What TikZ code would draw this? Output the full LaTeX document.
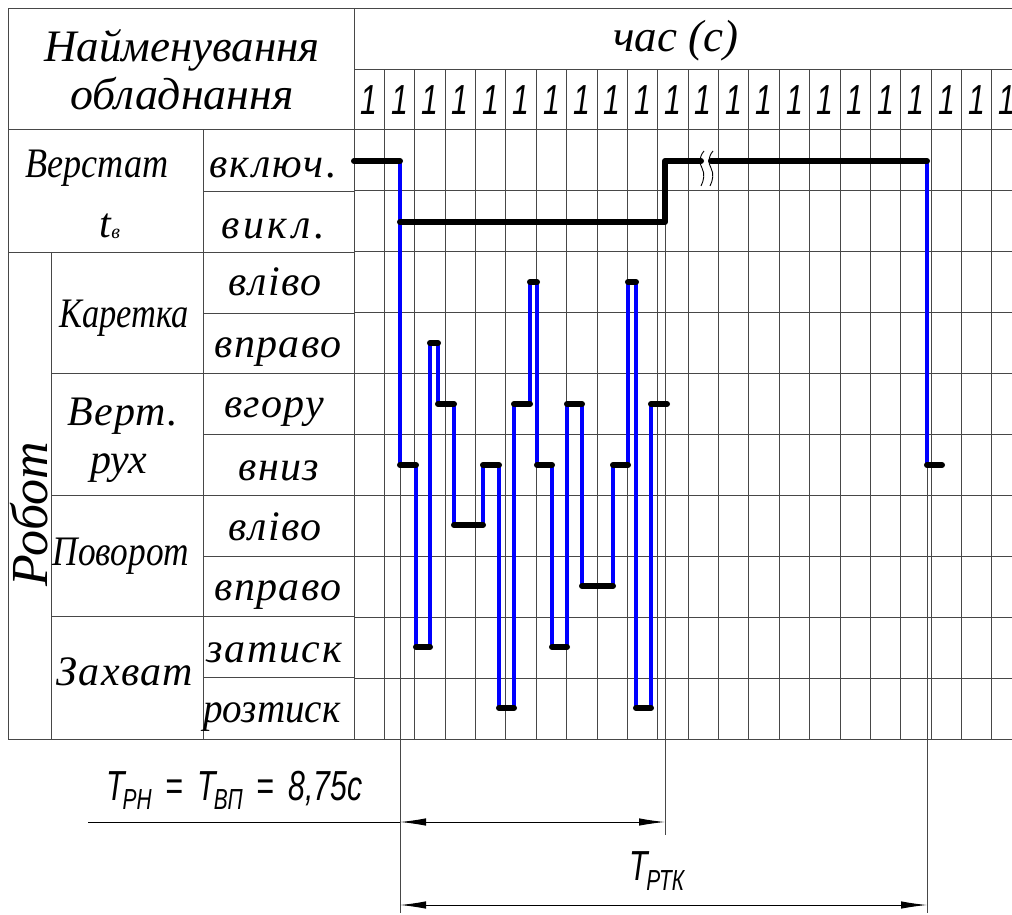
\documentclass[tikz,border=0pt]{standalone}
\usepackage{fontspec}
\setmainfont{Liberation Serif}
\newfontfamily\gost[FakeStretch=0.72]{Liberation Sans}
\usetikzlibrary{arrows.meta}
\begin{document}
\begin{tikzpicture}[x=1pt,y=-1pt,
  grid/.style={black!72,line width=1pt},
  sig/.style={black,line width=6pt,line cap=round},
  blu/.style={blue,line width=3.4pt},
  dim/.style={black,line width=1pt},
  lab/.style={inner sep=0pt,anchor=base,font=\itshape\fontsize{42}{42}\selectfont},
  sp/.style={font=\itshape\fontsize{42}{42}\selectfont\addfontfeatures{LetterSpace=#1}},
  hlab/.style={inner sep=0pt,anchor=base,font=\itshape\fontsize{45}{45}\selectfont},
  glab/.style={inner sep=0pt,anchor=base,font=\gost\itshape\fontsize{42}{42}\selectfont}]
\useasboundingbox (0,0) rectangle (1012,915);
\begin{scope}
\clip (0,0) rectangle (1012,915);
% ---- time grid
\foreach \k in {1,...,22} \draw[grid] ({354+30.38*\k},70) -- ({354+30.38*\k},739);
\foreach \i in {0,...,9} \draw[grid] (354,{130+60.9*\i}) -- (1012,{130+60.9*\i});
\draw[grid] (8,9) -- (1012,9);
\draw[grid] (354,70) -- (1012,70);
\draw[grid] (8,739) -- (1012,739);
% ---- left table
\draw[grid] (8,9) -- (8,739);
\draw[grid] (354,9) -- (354,739);
\draw[grid] (203,130) -- (203,739);
\draw[grid] (51,252) -- (51,739);
\draw[grid] (8,130) -- (354,130);
\draw[grid] (8,252) -- (354,252);
\draw[grid] (203,191) -- (354,191);
\draw[grid] (203,313) -- (354,313);
\draw[grid] (51,373) -- (354,373);
\draw[grid] (203,434) -- (354,434);
\draw[grid] (51,495) -- (354,495);
\draw[grid] (203,556) -- (354,556);
\draw[grid] (51,616) -- (354,616);
\draw[grid] (203,677) -- (354,677);
% ---- time labels (the last one is cut by the page edge, as in the original)
\node[glab] (c21) at ({354+30.38*21+15.19},115) {1};
\end{scope}
\foreach \k in {0,...,20} \node[glab] (c\k) at ({354+30.38*\k+15.19},115) {1};
% ---- texts
\node[hlab] (hdr1) at (182,62) {Найменування};
\node[hlab,xscale=1.02] (hdr2) at (182,110) {обладнання};
\node[hlab] (time) at (676,52) {час (с)};
\node[lab,xscale=0.86] (vst) at (97,177) {Верстат};
\node[lab] (tv) at (110,237) {t\raisebox{-1pt}{\fontsize{20}{20}\selectfont в}};
\node[lab,sp=5] (on) at (273,177) {включ.};
\node[lab,sp=9] (off) at (273,238) {викл.};
\node[lab,xscale=0.82] (kar) at (124,327) {Каретка};
\node[lab,sp=3.3] (vl1) at (275,295) {вліво};
\node[lab,sp=3.2] (vp1) at (278,357) {вправо};
\node[lab,sp=2.9] (vert) at (123,425) {Верт.};
\node[lab] (rukh) at (119,473) {рух};
\node[lab,sp=3.1] (up) at (274,417) {вгору};
\node[lab,sp=3.3] (down) at (279,480) {вниз};
\node[lab,xscale=0.84] (pov) at (121,565) {Поворот};
\node[lab,sp=3.3] (vl2) at (275,540) {вліво};
\node[lab,sp=3.2] (vp2) at (278,600) {вправо};
\node[lab,sp=3.2] (zakh) at (125,685) {Захват};
\node[lab,sp=4] (zat) at (274,662) {затиск};
\node[lab,xscale=0.93] (roz) at (272,722) {розтиск};
\node[inner sep=0pt,anchor=base,rotate=90,font=\itshape\fontsize{52}{52}\selectfont] (robot) at (47,514) {Робот};
% ---- extension lines
\coordinate (e1a) at (400,465); \coordinate (e1b) at (400,913);
\coordinate (e2a) at (665,222); \coordinate (e2b) at (665,835);
\coordinate (e3a) at (927,465); \coordinate (e3b) at (927,913);
\draw[grid] (e1a) -- (e1b);
\draw[grid] (e2a) -- (e2b);
\draw[grid] (e3a) -- (e3b);
% ---- machine signal
\draw[blu] (400,161) -- (400,465);
\draw[blu] (927,161) -- (927,465);
\draw[sig] (354,161) -- (400,161);
\draw[sig,line join=round] (400,222) -- (665,222) -- (665,161) -- (701,161);
\draw[sig] (711,161) -- (927,161);
\draw[sig] (927,465) -- (942,465);
\draw[black,line width=0.9pt] (704,151) .. controls (699,157) and (699,163) .. (702,168) .. controls (705,174) and (704,180) .. (701,186);
\draw[black,line width=0.9pt] (713,151) .. controls (708,157) and (708,163) .. (711,168) .. controls (714,174) and (713,180) .. (710,186);
% ---- robot signal: blue verticals
\foreach \x/\a/\b in {416/465/647, 430/647/343, 438/343/404, 454/404/525, 483/525/465,
  499/465/708, 514/708/404, 530/404/282, 537/282/465, 552/465/647, 567/647/404,
  582/404/586, 613/586/465, 628/465/282, 636/282/708, 651/708/404}
  \draw[blu] (\x,\a) -- (\x,\b);
% ---- robot signal: black dwell segments
\foreach \a/\b/\y in {400/416/465, 416/430/647, 430/438/343, 438/454/404, 454/483/525,
  483/499/465, 499/514/708, 514/530/404, 530/537/282, 537/552/465, 552/567/647,
  567/582/404, 582/613/586, 613/628/465, 628/636/282, 636/651/708, 651/667/404}
  \draw[sig] (\a,\y) -- (\b,\y);
% ---- dimensions
\coordinate (d1l) at (88,822); \coordinate (d1a) at (400,822); \coordinate (d1b) at (665,822);
\coordinate (d2a) at (400,905); \coordinate (d2b) at (927,905);
\draw[dim] (d1l) -- (d1a);
\draw[dim,{Latex[length=26pt,width=7.5pt]}-{Latex[length=26pt,width=7.5pt]}] (d1a) -- (d1b);
\draw[dim,{Latex[length=26pt,width=7.5pt]}-{Latex[length=26pt,width=7.5pt]}] (d2a) -- (d2b);
\node[glab,anchor=base west] (formula) at (106,800) {Т\kern-2pt\raisebox{-9pt}{\fontsize{29}{29}\selectfont РН}\hspace{14pt}=\hspace{14pt}Т\kern-2pt\raisebox{-9pt}{\fontsize{29}{29}\selectfont ВП}\hspace{14pt}=\hspace{14pt}8,75с};
\node[glab] (tptk) at (657,880) {Т\kern-2pt\raisebox{-10pt}{\fontsize{29}{29}\selectfont РТК}};
\end{tikzpicture}
\end{document}
